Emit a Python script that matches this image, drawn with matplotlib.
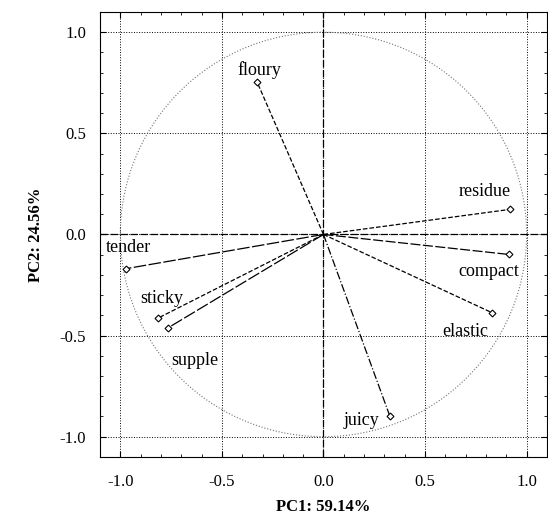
import numpy as np
import matplotlib.pyplot as plt
from matplotlib.ticker import MultipleLocator

plt.rcParams['font.family'] = ['Liberation Serif', 'DejaVu Serif']

# loadings on PC1 / PC2
atributos = ["floury", "residue", "compact", "tender", "sticky", "supple", "elastic", "juicy"]
pc1 = [-0.326, 0.919, 0.914, -0.971, -0.813, -0.767, 0.832, 0.326]
pc2 = [0.752, 0.124, -0.099, -0.169, -0.413, -0.463, -0.388, -0.896]
estilos = ["--", "--", (0, (8, 2)), (0, (10, 2)), "--", (0, (10, 2)), "--", "-."]

# where the names sit (data units)
etiq_x = [-0.318, 0.793, 0.813, -0.959, -0.798, -0.631, 0.700, 0.186]
etiq_y = [0.813, 0.213, -0.183, -0.064, -0.317, -0.625, -0.481, -0.922]

fig = plt.figure(figsize=(5.48, 5.21), dpi=100)
ax = fig.add_axes([0.1825, 0.123, 0.8155, 0.854])

t = np.linspace(0, 2 * np.pi, 400)
ax.plot(np.cos(t), np.sin(t), color='0.45', linestyle=':', linewidth=0.8)

ax.axhline(0, color='black', linestyle='--', linewidth=0.9, dashes=(6, 2))
ax.axvline(0, color='black', linestyle='--', linewidth=0.9, dashes=(6, 2))

for i in range(len(atributos)):
    ax.plot([0, pc1[i]], [0, pc2[i]], color='black', linestyle=estilos[i], linewidth=0.9)
    ax.plot(pc1[i], pc2[i], marker='D', markersize=3.5, markerfacecolor='white',
            markeredgecolor='black', markeredgewidth=0.8)
    ax.text(etiq_x[i], etiq_y[i], atributos[i], fontsize=13, ha='center', va='center')

ax.set_xlim(-1.1, 1.1)
ax.set_ylim(-1.1, 1.1)
ax.xaxis.set_major_locator(MultipleLocator(0.5))
ax.yaxis.set_major_locator(MultipleLocator(0.5))
ax.xaxis.set_minor_locator(MultipleLocator(0.1))
ax.yaxis.set_minor_locator(MultipleLocator(0.1))
ax.xaxis.set_major_formatter(plt.FuncFormatter(lambda v, p: f"{v:.1f}"))
ax.yaxis.set_major_formatter(plt.FuncFormatter(lambda v, p: f"{v:.1f}"))
ax.tick_params(which='both', direction='in', top=True, right=True, labelsize=12)
ax.tick_params(which='major', length=4)
ax.tick_params(which='minor', length=2.5)
ax.tick_params(axis='x', pad=12)
ax.tick_params(axis='y', pad=10)
ax.grid(which='major', color='black', linestyle=':', linewidth=0.7)

ax.set_xlabel("PC1: 59.14%", fontsize=12, fontweight='bold', labelpad=7)
ax.set_ylabel("PC2: 24.56%", fontsize=12, fontweight='bold', labelpad=11)

fig.savefig("out.png", dpi=100)
